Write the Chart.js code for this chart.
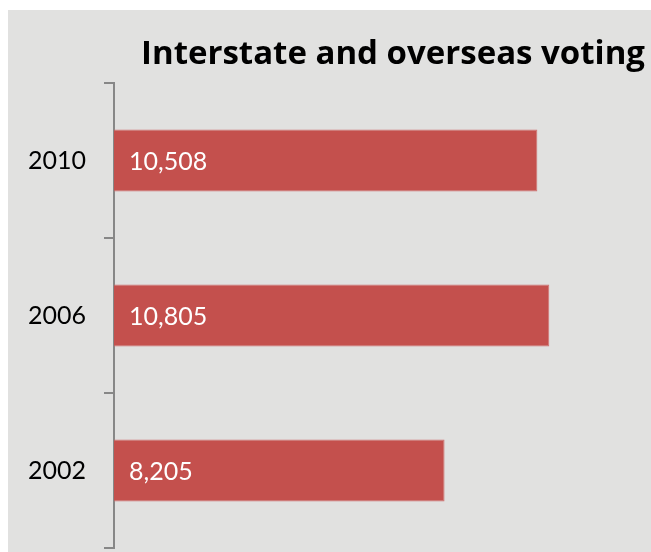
<!DOCTYPE html>
<html>
<head>
<meta charset="utf-8">
<style>
  html { background: #e1e1e0; }
  body { margin: 0; height: 542px; border-top: 10px solid #ffffff; border-left: 8px solid #ffffff; }
  #votingChart { display: block; position: absolute; left: 0; top: 0; }
</style>
</head>
<body>
<canvas id="votingChart" width="651" height="552"></canvas>
<script src="https://cdn.jsdelivr.net/npm/chart.js"></script>
<script>
    const years = ['2010', '2006', '2002'];
    const votes = [10508, 10805, 8205];
    const chartTitle = 'Interstate and overseas voting';

    // white value labels at the start of each bar
    const barLabels = {
        id: 'barLabels',
        afterDatasetsDraw(chart) {
            const ctx = chart.ctx;
            const meta = chart.getDatasetMeta(0);
            ctx.save();
            ctx.fillStyle = '#ffffff';
            ctx.font = '25px Lato';
            ctx.textBaseline = 'middle';
            meta.data.forEach((bar, i) => {
                ctx.fillText(votes[i].toLocaleString('en-US'), bar.base + 15, bar.y + 1);
            });
            ctx.restore();
        }
    };

    const ctx = document.getElementById('votingChart').getContext('2d');
    new Chart(ctx, {
        type: 'bar',
        data: {
            labels: years,
            datasets: [{
                data: votes,
                backgroundColor: '#c4504d',
                borderColor: '#cf7270',
                borderWidth: 1,
                borderSkipped: 'start',
                barPercentage: 0.4,
                categoryPercentage: 1
            }]
        },
        options: {
            indexAxis: 'y',
            responsive: false,
            animation: false,
            layout: { padding: { top: 10, bottom: 4, left: 0, right: 6 } },
            plugins: {
                legend: { display: false },
                tooltip: { enabled: false },
                title: {
                    display: true,
                    align: 'end',
                    text: chartTitle,
                    color: '#000000',
                    font: { family: 'Open Sans', size: 33, weight: 'bold' },
                    padding: { top: 25, bottom: 8.4 }
                }
            },
            scales: {
                x: {
                    display: false,
                    min: 0,
                    max: 13180
                },
                y: {
                    afterFit(scale) {
                        scale.width = 114;
                        scale.paddingTop = 0;
                        scale.paddingBottom = 0;
                    },
                    border: { display: true, color: '#878787', width: 2 },
                    grid: {
                        offset: true,
                        drawOnChartArea: false,
                        drawTicks: true,
                        tickLength: 10,
                        color: '#878787',
                        lineWidth: 2
                    },
                    ticks: {
                        color: '#000000',
                        padding: 18,
                        font: { family: 'Lato', size: 25 }
                    }
                }
            }
        },
        plugins: [barLabels]
    });
</script>
</body>
</html>
